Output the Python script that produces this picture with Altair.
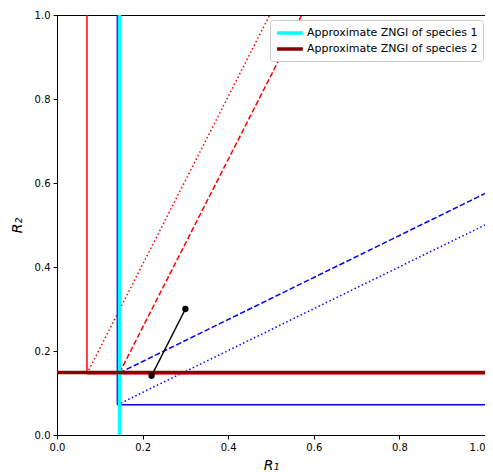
import altair as alt
import pandas as pd

# ---- data ----
seg_names = ["red_v", "red_h", "red_dot", "red_dash", "blue_v", "blue_h", "blue_dot", "blue_dash"]
seg_x1 = [0.070, 0.070, 0.070, 0.146, 0.141, 0.141, 0.141, 0.146]
seg_y1 = [0.146, 0.146, 0.146, 0.148, 0.072, 0.072, 0.072, 0.148]
seg_x2 = [0.070, 1.000, 0.497, 0.572, 0.141, 1.000, 1.000, 1.000]
seg_y2 = [1.000, 0.146, 1.000, 1.000, 1.000, 0.072, 0.500, 0.575]
seg_color = ["red", "red", "red", "red", "blue", "blue", "blue", "blue"]
seg_style = ["solid", "solid", "dot", "dash", "solid", "solid", "dot", "dash"]

zngi_labels = ["Approximate ZNGI of species 1", "Approximate ZNGI of species 2"]
zngi_x1 = [0.146, 0.0]
zngi_y1 = [0.0, 0.149]
zngi_x2 = [0.146, 1.0]
zngi_y2 = [1.0, 0.149]
zngi_colors = ["cyan", "darkred"]

traj_x = [0.221, 0.300]
traj_y = [0.141, 0.300]

ticks = [0.0, 0.2, 0.4, 0.6, 0.8, 1.0]

segs = pd.DataFrame({"name": seg_names, "x": seg_x1, "y": seg_y1, "x2": seg_x2, "y2": seg_y2,
                     "color": seg_color, "style": seg_style})
zngi = pd.DataFrame({"label": zngi_labels, "x": zngi_x1, "y": zngi_y1, "x2": zngi_x2, "y2": zngi_y2})
traj = pd.DataFrame({"x": traj_x, "y": traj_y, "o": [0, 1]})

xs = alt.Scale(domain=[0, 1], nice=False, zero=False)
ys = alt.Scale(domain=[0, 1], nice=False, zero=False)
xax = alt.Axis(values=ticks, format=".1f", title="R₁", grid=False, labelFlush=False,
               labelAlign={"condition": {"test": "datum.value >= 1", "value": "right"}, "value": "center"})
yax = alt.Axis(values=ticks, format=".1f", title="R₂", grid=False, labelFlush=False)

dash_map = {"solid": [1, 0], "dot": [1.5, 2.5], "dash": [5.5, 2.4]}

layers = []
for nm, c, st in zip(seg_names, seg_color, seg_style):
    layers.append(
        alt.Chart(segs).transform_filter(alt.datum.name == nm)
        .mark_rule(color=c, strokeWidth=1.5, strokeDash=dash_map[st], clip=True)
        .encode(x=alt.X("x:Q", scale=xs, axis=xax), y=alt.Y("y:Q", scale=ys, axis=yax),
                x2="x2:Q", y2="y2:Q")
    )

zl = alt.Chart(zngi).mark_rule(strokeWidth=3.5, clip=True).encode(
    x=alt.X("x:Q", scale=xs, axis=xax), y=alt.Y("y:Q", scale=ys, axis=yax),
    x2="x2:Q", y2="y2:Q",
    color=alt.Color("label:N", scale=alt.Scale(domain=zngi_labels, range=zngi_colors),
                    legend=alt.Legend(title=None, orient="none", legendX=213, legendY=5,
                                      symbolType="M-1,0H3.3", symbolStrokeWidth=3.5,
                                      symbolSize=144, labelFontSize=11,
                                      labelFont="DejaVu Sans", labelColor="black", labelOffset=16,
                                      strokeColor="#cccccc", fillColor="white", cornerRadius=3,
                                      padding=5, rowPadding=1, labelLimit=300)),
)

tl = alt.Chart(traj).mark_line(color="black", strokeWidth=1.5).encode(
    x=alt.X("x:Q", scale=xs, axis=xax), y=alt.Y("y:Q", scale=ys, axis=yax), order="o:Q")
tp = alt.Chart(traj).mark_circle(color="black", size=40, opacity=1).encode(
    x=alt.X("x:Q", scale=xs, axis=xax), y=alt.Y("y:Q", scale=ys, axis=yax))

chart = alt.layer(*layers, zl, tl, tp).properties(
    width=428, height=420,
    autosize=alt.AutoSizeParams(type="none"),
    padding={"left": 49, "top": 7, "right": 0, "bottom": 38},
).configure_view(stroke="black", strokeWidth=1).configure_axis(
    labelFont="DejaVu Sans", labelFontSize=10, labelColor="black",
    titleFont="DejaVu Sans", titleFontSize=14, titleFontStyle="italic", titleFontWeight="normal",
    titleColor="black", domainColor="black", tickColor="black", tickSize=4, labelPadding=3,
).configure_axisX(titlePadding=6).configure_axisY(titlePadding=10)

chart.save("out.html", embed_options={"renderer": "svg", "actions": False})
